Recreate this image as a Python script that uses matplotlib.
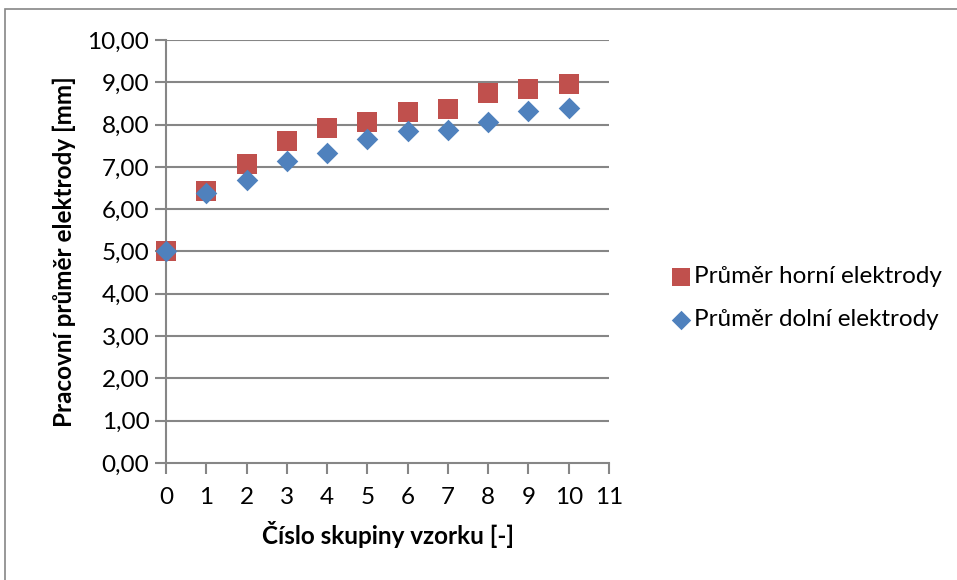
import matplotlib.pyplot as plt
from matplotlib.patches import Rectangle

# ============================================================
# Data
# ============================================================

skupina = [0, 1, 2, 3, 4, 5, 6, 7, 8, 9, 10]
horni = [5.00, 6.44, 7.08, 7.62, 7.93, 8.07, 8.29, 8.38, 8.74, 8.85, 8.97]
dolni = [5.00, 6.39, 6.70, 7.13, 7.32, 7.65, 7.84, 7.88, 8.06, 8.31, 8.40]

y_ticks = [0, 1, 2, 3, 4, 5, 6, 7, 8, 9, 10]
x_ticks = list(range(0, 12))

label_horni = "Průměr horní elektrody"
label_dolni = "Průměr dolní elektrody"

RED = "#C0504D"
BLUE = "#4F81BD"
GRID = "#868686"
FONT = ["Lato", "DejaVu Sans"]

plt.rcParams["font.family"] = FONT

# ============================================================
# Figure
# ============================================================

fig = plt.figure(figsize=(9.57, 5.8), dpi=100)
fig.patches.append(Rectangle((5 / 957, -0.1), 1.2, 1 - 9 / 580 + 0.1,
                             transform=fig.transFigure, fill=False,
                             edgecolor=GRID, linewidth=1.2))

ax = fig.add_axes([166 / 957, 1 - 463 / 580, (609 - 166) / 957, (463 - 40) / 580])

ax.scatter(skupina, horni, marker="s", s=14 ** 2, color=RED, zorder=3,
           linewidths=0, label=label_horni, clip_on=False)
ax.scatter(skupina, dolni, marker="D", s=11 ** 2, color=BLUE, zorder=4,
           linewidths=0, label=label_dolni, clip_on=False)

ax.set_xlim(0, 11)
ax.set_ylim(0, 10)
ax.set_xticks(x_ticks)
ax.set_yticks(y_ticks)
ax.set_yticklabels([f"{v:.2f}".replace(".", ",") for v in y_ticks])

for y in y_ticks[1:]:
    ax.axhline(y, color=GRID, linewidth=1.5, zorder=1)

for side in ["top", "right"]:
    ax.spines[side].set_visible(False)
for side in ["left", "bottom"]:
    ax.spines[side].set_color(GRID)
    ax.spines[side].set_linewidth(1.5)

ax.tick_params(axis="both", colors=GRID, labelcolor="black", labelsize=17.5,
               length=8, width=1.5, direction="out")
ax.tick_params(axis="x", pad=9)
ax.tick_params(axis="y", pad=4)

ax.set_xlabel("Číslo skupiny vzorku [-]", fontsize=17.5, fontweight="bold", labelpad=10)
ax.set_ylabel("Pracovní průměr elektrody [mm]", fontsize=17.5, fontweight="bold", labelpad=8)

leg = fig.legend(loc="center left", bbox_to_anchor=(660 / 957, 1 - 298 / 580),
                 frameon=False, fontsize=17.5, handletextpad=0.1,
                 labelspacing=0.9, borderaxespad=0, handlelength=0.9,
                 markerscale=0.9)

fig.savefig("out.png", dpi=100)
